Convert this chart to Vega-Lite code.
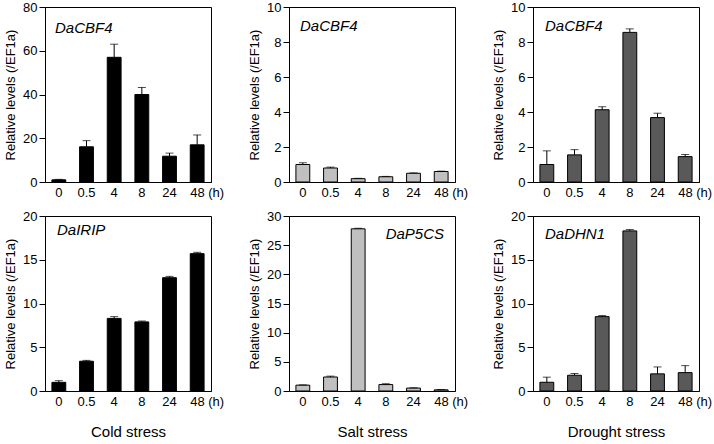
{
  "$schema": "https://vega.github.io/schema/vega-lite/v6.json",
  "padding": {"left": 4, "top": 0, "right": 0, "bottom": 0},
  "background": "white",
  "data": {"values": [
    {"panel": "c1", "time": "0", "value": 1.0, "upper": 1.2},
    {"panel": "c1", "time": "0.5", "value": 16.1, "upper": 18.9},
    {"panel": "c1", "time": "4", "value": 57.0, "upper": 63.0},
    {"panel": "c1", "time": "8", "value": 40.0, "upper": 43.2},
    {"panel": "c1", "time": "24", "value": 11.8, "upper": 13.2},
    {"panel": "c1", "time": "48", "value": 17.0, "upper": 21.5},
    {"panel": "s1", "time": "0", "value": 1.0, "upper": 1.1},
    {"panel": "s1", "time": "0.5", "value": 0.8, "upper": 0.85},
    {"panel": "s1", "time": "4", "value": 0.19, "upper": 0.21},
    {"panel": "s1", "time": "8", "value": 0.3, "upper": 0.32},
    {"panel": "s1", "time": "24", "value": 0.5, "upper": 0.52},
    {"panel": "s1", "time": "48", "value": 0.6, "upper": 0.62},
    {"panel": "d1", "time": "0", "value": 1.0, "upper": 1.78},
    {"panel": "d1", "time": "0.5", "value": 1.55, "upper": 1.85},
    {"panel": "d1", "time": "4", "value": 4.13, "upper": 4.3},
    {"panel": "d1", "time": "8", "value": 8.55, "upper": 8.75},
    {"panel": "d1", "time": "24", "value": 3.68, "upper": 3.93},
    {"panel": "d1", "time": "48", "value": 1.45, "upper": 1.57},
    {"panel": "c2", "time": "0", "value": 0.99, "upper": 1.18},
    {"panel": "c2", "time": "0.5", "value": 3.4, "upper": 3.5},
    {"panel": "c2", "time": "4", "value": 8.3, "upper": 8.5},
    {"panel": "c2", "time": "8", "value": 7.9, "upper": 8.0},
    {"panel": "c2", "time": "24", "value": 12.95, "upper": 13.1},
    {"panel": "c2", "time": "48", "value": 15.7, "upper": 15.85},
    {"panel": "s2", "time": "0", "value": 1.0, "upper": 1.05},
    {"panel": "s2", "time": "0.5", "value": 2.4, "upper": 2.55},
    {"panel": "s2", "time": "4", "value": 27.8, "upper": 27.9},
    {"panel": "s2", "time": "8", "value": 1.1, "upper": 1.25},
    {"panel": "s2", "time": "24", "value": 0.5, "upper": 0.55},
    {"panel": "s2", "time": "48", "value": 0.2, "upper": 0.25},
    {"panel": "d2", "time": "0", "value": 1.0, "upper": 1.58},
    {"panel": "d2", "time": "0.5", "value": 1.8, "upper": 2.0},
    {"panel": "d2", "time": "4", "value": 8.5, "upper": 8.62},
    {"panel": "d2", "time": "8", "value": 18.3, "upper": 18.45},
    {"panel": "d2", "time": "24", "value": 1.96, "upper": 2.75},
    {"panel": "d2", "time": "48", "value": 2.1, "upper": 2.9}
  ]},
  "columns": 3,
  "spacing": {"row": 34, "column": 78},
  "bounds": "flush",
  "resolve": {"scale": {"x": "independent", "y": "independent"}},
  "concat": [
        {
          "width": 166, "height": 175,
          "title": {"text": "DaCBF4", "anchor": "start", "dx": 10, "offset": -35},
          "transform": [{"filter": "datum.panel == 'c1'"}],
          "encoding": {
            "x": {"field": "time", "type": "nominal", "sort": ["0","0.5","4","8","24","48"], "scale": {"paddingInner": 0.5, "paddingOuter": 0.25},
                  "axis": {"title": null, "labelExpr": "datum.value == '48' ? '48 (h)' : datum.label", "labelOffset": {"condition": {"test": "datum.value == '48'", "value": 10}, "value": 0}}},
            "y": {"field": "value", "type": "quantitative", "scale": {"domain": [0, 80]}, "axis": {"title": "Relative levels (/EF1a)", "values": [0,20,40,60,80]}}
          },
          "layer": [
            {"mark": {"type": "bar", "color": "#000000", "stroke": "#000000", "strokeWidth": 1}},
            {"mark": {"type": "rule", "color": "#000000", "strokeWidth": 1}, "encoding": {"y2": {"field": "upper"}}},
            {"mark": {"type": "tick", "color": "#000000", "size": 8, "thickness": 1, "orient": "horizontal"}, "encoding": {"y": {"field": "upper", "type": "quantitative"}}}
          ]
        },
        {
          "width": 166, "height": 175,
          "title": {"text": "DaCBF4", "anchor": "start", "dx": 11, "offset": -33},
          "transform": [{"filter": "datum.panel == 's1'"}],
          "encoding": {
            "x": {"field": "time", "type": "nominal", "sort": ["0","0.5","4","8","24","48"], "scale": {"paddingInner": 0.5, "paddingOuter": 0.25},
                  "axis": {"title": null, "labelExpr": "datum.value == '48' ? '48 (h)' : datum.label", "labelOffset": {"condition": {"test": "datum.value == '48'", "value": 10}, "value": 0}}},
            "y": {"field": "value", "type": "quantitative", "scale": {"domain": [0, 10]}, "axis": {"title": "Relative levels (/EF1a)", "values": [0,2,4,6,8,10]}}
          },
          "layer": [
            {"mark": {"type": "bar", "color": "#c0c0c0", "stroke": "#000000", "strokeWidth": 1}},
            {"mark": {"type": "rule", "color": "#000000", "strokeWidth": 1}, "encoding": {"y2": {"field": "upper"}}},
            {"mark": {"type": "tick", "color": "#000000", "size": 8, "thickness": 1, "orient": "horizontal"}, "encoding": {"y": {"field": "upper", "type": "quantitative"}}}
          ]
        },
        {
          "width": 166, "height": 175,
          "title": {"text": "DaCBF4", "anchor": "start", "dx": 12, "offset": -33},
          "transform": [{"filter": "datum.panel == 'd1'"}],
          "encoding": {
            "x": {"field": "time", "type": "nominal", "sort": ["0","0.5","4","8","24","48"], "scale": {"paddingInner": 0.5, "paddingOuter": 0.25},
                  "axis": {"title": null, "labelExpr": "datum.value == '48' ? '48 (h)' : datum.label", "labelOffset": {"condition": {"test": "datum.value == '48'", "value": 10}, "value": 0}}},
            "y": {"field": "value", "type": "quantitative", "scale": {"domain": [0, 10]}, "axis": {"title": "Relative levels (/EF1a)", "values": [0,2,4,6,8,10]}}
          },
          "layer": [
            {"mark": {"type": "bar", "color": "#595959", "stroke": "#000000", "strokeWidth": 1}},
            {"mark": {"type": "rule", "color": "#000000", "strokeWidth": 1}, "encoding": {"y2": {"field": "upper"}}},
            {"mark": {"type": "tick", "color": "#000000", "size": 8, "thickness": 1, "orient": "horizontal"}, "encoding": {"y": {"field": "upper", "type": "quantitative"}}}
          ]
        },
        {
          "width": 166, "height": 175,
          "title": {"text": "DaIRIP", "anchor": "start", "dx": 12, "offset": -28},
          "transform": [{"filter": "datum.panel == 'c2'"}],
          "encoding": {
            "x": {"field": "time", "type": "nominal", "sort": ["0","0.5","4","8","24","48"], "scale": {"paddingInner": 0.5, "paddingOuter": 0.25},
                  "axis": {"title": "Cold stress", "labelExpr": "datum.value == '48' ? '48 (h)' : datum.label", "labelOffset": {"condition": {"test": "datum.value == '48'", "value": 10}, "value": 0}}},
            "y": {"field": "value", "type": "quantitative", "scale": {"domain": [0, 20]}, "axis": {"title": "Relative levels (/EF1a)", "values": [0,5,10,15,20]}}
          },
          "layer": [
            {"mark": {"type": "bar", "color": "#000000", "stroke": "#000000", "strokeWidth": 1}},
            {"mark": {"type": "rule", "color": "#000000", "strokeWidth": 1}, "encoding": {"y2": {"field": "upper"}}},
            {"mark": {"type": "tick", "color": "#000000", "size": 8, "thickness": 1, "orient": "horizontal"}, "encoding": {"y": {"field": "upper", "type": "quantitative"}}}
          ]
        },
        {
          "width": 166, "height": 175,
          "title": {"text": "DaP5CS", "anchor": "end", "dx": -11, "offset": -32},
          "transform": [{"filter": "datum.panel == 's2'"}],
          "encoding": {
            "x": {"field": "time", "type": "nominal", "sort": ["0","0.5","4","8","24","48"], "scale": {"paddingInner": 0.5, "paddingOuter": 0.25},
                  "axis": {"title": "Salt stress", "labelExpr": "datum.value == '48' ? '48 (h)' : datum.label", "labelOffset": {"condition": {"test": "datum.value == '48'", "value": 10}, "value": 0}}},
            "y": {"field": "value", "type": "quantitative", "scale": {"domain": [0, 30]}, "axis": {"title": "Relative levels (/EF1a)", "values": [0,5,10,15,20,25,30]}}
          },
          "layer": [
            {"mark": {"type": "bar", "color": "#c0c0c0", "stroke": "#000000", "strokeWidth": 1}},
            {"mark": {"type": "rule", "color": "#000000", "strokeWidth": 1}, "encoding": {"y2": {"field": "upper"}}},
            {"mark": {"type": "tick", "color": "#000000", "size": 8, "thickness": 1, "orient": "horizontal"}, "encoding": {"y": {"field": "upper", "type": "quantitative"}}}
          ]
        },
        {
          "width": 166, "height": 175,
          "title": {"text": "DaDHN1", "anchor": "start", "dx": 12, "offset": -32},
          "transform": [{"filter": "datum.panel == 'd2'"}],
          "encoding": {
            "x": {"field": "time", "type": "nominal", "sort": ["0","0.5","4","8","24","48"], "scale": {"paddingInner": 0.5, "paddingOuter": 0.25},
                  "axis": {"title": "Drought stress", "labelExpr": "datum.value == '48' ? '48 (h)' : datum.label", "labelOffset": {"condition": {"test": "datum.value == '48'", "value": 10}, "value": 0}}},
            "y": {"field": "value", "type": "quantitative", "scale": {"domain": [0, 20]}, "axis": {"title": "Relative levels (/EF1a)", "values": [0,5,10,15,20]}}
          },
          "layer": [
            {"mark": {"type": "bar", "color": "#595959", "stroke": "#000000", "strokeWidth": 1}},
            {"mark": {"type": "rule", "color": "#000000", "strokeWidth": 1}, "encoding": {"y2": {"field": "upper"}}},
            {"mark": {"type": "tick", "color": "#000000", "size": 8, "thickness": 1, "orient": "horizontal"}, "encoding": {"y": {"field": "upper", "type": "quantitative"}}}
          ]
        }
  ],
  "config": {
    "font": "Liberation Sans",
    "view": {"stroke": "#000000", "strokeWidth": 1},
    "axis": {"labelFont": "Liberation Sans", "labelFontSize": 13, "labelColor": "#000000", "titleColor": "#000000", "domainColor": "#000000", "tickColor": "#000000", "grid": false, "titleFont": "Liberation Sans", "titleFontWeight": "normal"},
    "axisY": {"tickSize": 6, "labelPadding": 2, "titleFontSize": 13, "titlePadding": 5},
    "axisX": {"ticks": false, "labelAngle": 0, "labelPadding": 4, "titleFontSize": 15, "titlePadding": 16},
    "title": {"font": "Liberation Sans", "fontSize": 15, "fontStyle": "italic", "fontWeight": "normal", "color": "#000000", "frame": "group"}
  }
}
